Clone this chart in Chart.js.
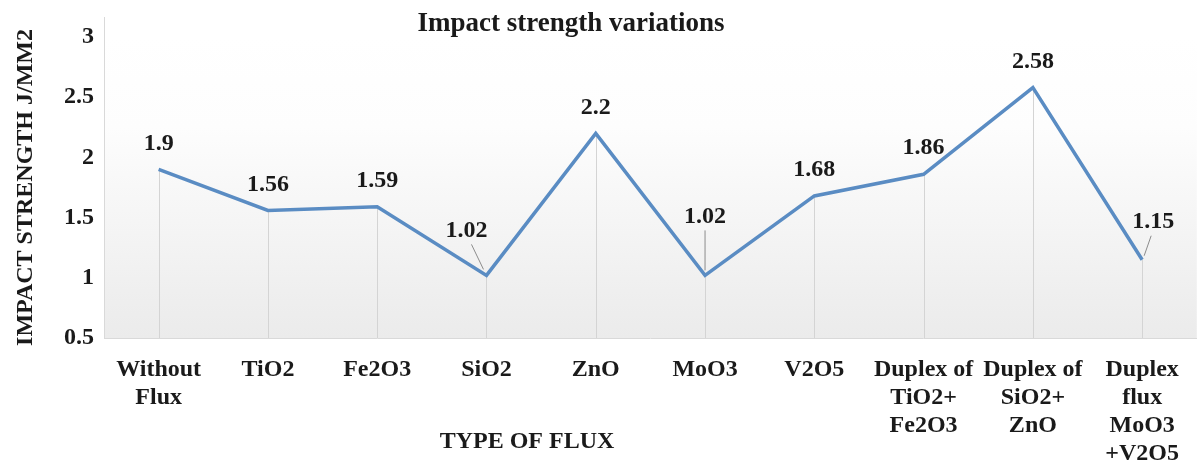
<!DOCTYPE html>
<html>
<head>
<meta charset="utf-8">
<script src="https://cdn.jsdelivr.net/npm/chart.js@4.4.0/dist/chart.umd.js"></script>
<style>
  html, body { margin: 0; padding: 0; background: #fff; }
  #wrap { width: 1197px; height: 465px; }
</style>
</head>
<body>
<div id="wrap"><canvas id="impactChart" width="1197" height="465"></canvas></div>
<script>
const categories = [
  ['Without', 'Flux'], 'TiO2', 'Fe2O3', 'SiO2', 'ZnO', 'MoO3', 'V2O5',
  ['Duplex of', 'TiO2+', 'Fe2O3'], ['Duplex of', 'SiO2+', 'ZnO'],
  ['Duplex', 'flux', 'MoO3', '+V2O5']
];
const strength = [1.9, 1.56, 1.59, 1.02, 2.2, 1.02, 1.68, 1.86, 2.58, 1.15];
const yTickValues = [0.5, 1, 1.5, 2, 2.5, 3];

const FONT = "'Liberation Serif', 'Times New Roman', serif";
const lineColor = '#5a8cc3';

// labels that sit away from their point, joined by a thin leader line
const callouts = {
  3: { dx: -20, dy: -45, from: [-15, -31], to: [-3, -6] },
  5: { dx: 0, dy: -59, from: [0, -45], to: [0, -5] },
  9: { dx: 11, dy: -38, from: [9, -24], to: [2, -4] }
};

const plotBackground = {
  id: 'plotBackground',
  beforeDraw(chart) {
    const { ctx, chartArea: a } = chart;
    const g = ctx.createLinearGradient(0, a.top, 0, a.bottom);
    g.addColorStop(0, '#ffffff');
    g.addColorStop(0.3, '#fdfdfd');
    g.addColorStop(1, '#ebebeb');
    ctx.save();
    ctx.fillStyle = g;
    ctx.fillRect(a.left, a.top - 20, a.right - a.left, a.bottom - a.top + 20);
    ctx.strokeStyle = '#d9d9d9';
    ctx.lineWidth = 1;
    ctx.beginPath();
    ctx.moveTo(a.left + 0.5, a.top - 20);
    ctx.lineTo(a.left + 0.5, a.bottom);
    ctx.stroke();
    ctx.restore();
  },
  beforeDatasetsDraw(chart) {
    const { ctx, chartArea: a } = chart;
    const meta = chart.getDatasetMeta(0);
    ctx.save();
    ctx.strokeStyle = '#d4d4d4';
    ctx.lineWidth = 1;
    meta.data.forEach((pt) => {
      const x = Math.round(pt.x) + 0.5;
      ctx.beginPath();
      ctx.moveTo(x, pt.y);
      ctx.lineTo(x, a.bottom);
      ctx.stroke();
    });
    ctx.restore();
  }
};

const valueLabels = {
  id: 'valueLabels',
  afterDatasetsDraw(chart) {
    const { ctx } = chart;
    const meta = chart.getDatasetMeta(0);
    ctx.save();
    ctx.font = `bold 24px ${FONT}`;
    ctx.fillStyle = '#1a1a1a';
    ctx.textAlign = 'center';
    ctx.textBaseline = 'middle';
    meta.data.forEach((pt, i) => {
      const c = callouts[i];
      const dx = c ? c.dx : 0;
      const dy = c ? c.dy : -26;
      if (c) {
        ctx.strokeStyle = '#8c8c8c';
        ctx.lineWidth = 1;
        ctx.beginPath();
        ctx.moveTo(pt.x + c.from[0], pt.y + c.from[1]);
        ctx.lineTo(pt.x + c.to[0], pt.y + c.to[1]);
        ctx.stroke();
      }
      ctx.fillText(String(strength[i]), pt.x + dx, pt.y + dy);
    });
    ctx.restore();
  }
};

const extraTitles = {
  id: 'extraTitles',
  afterDraw(chart) {
    const { ctx } = chart;
    ctx.save();
    ctx.fillStyle = '#1a1a1a';
    ctx.textAlign = 'center';
    ctx.textBaseline = 'middle';
    ctx.font = `bold 27px ${FONT}`;
    ctx.fillText('Impact strength variations', 571, 24);
    ctx.font = `bold 24px ${FONT}`;
    ctx.fillText('TYPE OF FLUX', 527, 442);
    ctx.restore();
  }
};

new Chart(document.getElementById('impactChart'), {
  type: 'line',
  data: {
    labels: categories,
    datasets: [{
      data: strength,
      borderColor: lineColor,
      borderWidth: 3.5,
      pointRadius: 0,
      tension: 0,
      fill: false
    }]
  },
  options: {
    responsive: false,
    animation: false,
    layout: { padding: { top: 37, right: 0, left: 0, bottom: 0 } },
    plugins: { legend: { display: false }, tooltip: { enabled: false } },
    scales: {
      x: {
        offset: true,
        grid: { display: false, drawTicks: false },
        border: { color: '#d9d9d9', width: 1 },
        ticks: {
          autoSkip: false,
          maxRotation: 0,
          padding: 18,
          color: '#1a1a1a',
          font: { family: FONT, size: 24, weight: 'bold', lineHeight: 1.17 }
        },
        afterFit(s) { s.height = 127; }
      },
      y: {
        min: 0.5,
        max: 3,
        afterBuildTicks(s) { s.ticks = yTickValues.map((v) => ({ value: v })); },
        grid: { display: false, drawTicks: false },
        border: { display: false },
        ticks: {
          padding: 10,
          color: '#1a1a1a',
          callback: (v) => String(v),
          font: { family: FONT, size: 24, weight: 'bold' }
        },
        title: {
          display: true,
          text: 'IMPACT STRENGTH J/MM2',
          color: '#1a1a1a',
          padding: { top: 11, bottom: 0 },
          font: { family: FONT, size: 24, weight: 'bold' }
        },
        afterFit(s) { s.width = 104; }
      }
    }
  },
  plugins: [plotBackground, valueLabels, extraTitles]
});
</script>
</body>
</html>
